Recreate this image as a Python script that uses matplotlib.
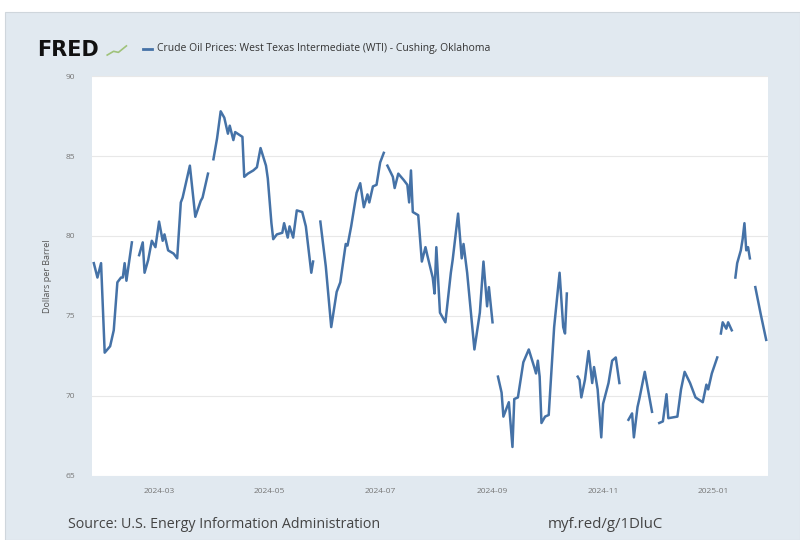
import numpy as np
import pandas as pd
import matplotlib
matplotlib.use("Agg")
import matplotlib.pyplot as plt
import matplotlib.dates as mdates
from matplotlib.patches import Rectangle
from matplotlib.lines import Line2D

plt.rcParams['font.family'] = ['Open Sans', 'DejaVu Sans']

nan = np.nan

# WTI spot price (NaN = break in the line)
dates = [
    "2024-01-25", "2024-01-27", "2024-01-29", "2024-01-31", "2024-02-03", "2024-02-05",
    "2024-02-07", "2024-02-09", "2024-02-10", "2024-02-11", "2024-02-12", "2024-02-15",
    "2024-02-17",
    "2024-02-19", "2024-02-21", "2024-02-22", "2024-02-24", "2024-02-26", "2024-02-28",
    "2024-03-01", "2024-03-03", "2024-03-04", "2024-03-06", "2024-03-09", "2024-03-11",
    "2024-03-13", "2024-03-14", "2024-03-18", "2024-03-21", "2024-03-24", "2024-03-25",
    "2024-03-28",
    "2024-03-29",
    "2024-03-31", "2024-04-02", "2024-04-04", "2024-04-06", "2024-04-08", "2024-04-09",
    "2024-04-11", "2024-04-12", "2024-04-16", "2024-04-17", "2024-04-19", "2024-04-22",
    "2024-04-24", "2024-04-26", "2024-04-29", "2024-04-30", "2024-05-02", "2024-05-03",
    "2024-05-05", "2024-05-08", "2024-05-09", "2024-05-11", "2024-05-12", "2024-05-14",
    "2024-05-16", "2024-05-19", "2024-05-21", "2024-05-24", "2024-05-25",
    "2024-05-27",
    "2024-05-29", "2024-06-01", "2024-06-04", "2024-06-07", "2024-06-09", "2024-06-12",
    "2024-06-13", "2024-06-15", "2024-06-18", "2024-06-20", "2024-06-22", "2024-06-24",
    "2024-06-25", "2024-06-27", "2024-06-29", "2024-07-01", "2024-07-03",
    "2024-07-04",
    "2024-07-05", "2024-07-08", "2024-07-09", "2024-07-11", "2024-07-14", "2024-07-16",
    "2024-07-17", "2024-07-18", "2024-07-19", "2024-07-22", "2024-07-24", "2024-07-26",
    "2024-07-27", "2024-07-30", "2024-07-31", "2024-08-01", "2024-08-03", "2024-08-06",
    "2024-08-09", "2024-08-10", "2024-08-13", "2024-08-15", "2024-08-16", "2024-08-18",
    "2024-08-22", "2024-08-25", "2024-08-27", "2024-08-29", "2024-08-30", "2024-09-01",
    "2024-09-02",
    "2024-09-04", "2024-09-06", "2024-09-07", "2024-09-10", "2024-09-12", "2024-09-13",
    "2024-09-15", "2024-09-18", "2024-09-21", "2024-09-24", "2024-09-25", "2024-09-26",
    "2024-09-27", "2024-09-28", "2024-09-30", "2024-10-02", "2024-10-03", "2024-10-05",
    "2024-10-08", "2024-10-10", "2024-10-11", "2024-10-12",
    "2024-10-15",
    "2024-10-18", "2024-10-19", "2024-10-20", "2024-10-22", "2024-10-24", "2024-10-26",
    "2024-10-27", "2024-10-29", "2024-10-31", "2024-11-01", "2024-11-04", "2024-11-06",
    "2024-11-08", "2024-11-10",
    "2024-11-12",
    "2024-11-15", "2024-11-17", "2024-11-18", "2024-11-20", "2024-11-21", "2024-11-24",
    "2024-11-28",
    "2024-11-30",
    "2024-12-02", "2024-12-04", "2024-12-06", "2024-12-07", "2024-12-12", "2024-12-14",
    "2024-12-16", "2024-12-19", "2024-12-22", "2024-12-26", "2024-12-28", "2024-12-29",
    "2024-12-31", "2025-01-03",
    "2025-01-04",
    "2025-01-05", "2025-01-06", "2025-01-08", "2025-01-09", "2025-01-11",
    "2025-01-12",
    "2025-01-13", "2025-01-14", "2025-01-16", "2025-01-17", "2025-01-18", "2025-01-19",
    "2025-01-20", "2025-01-21",
    "2025-01-22",
    "2025-01-24", "2025-01-27", "2025-01-30",
]

prices = [
    78.3, 77.4, 78.3, 72.7, 73.1, 74.1,
    77.1, 77.4, 77.4, 78.3, 77.2, 79.6,
    nan,
    78.8, 79.6, 77.7, 78.5, 79.7, 79.3,
    80.9, 79.7, 80.1, 79.1, 78.9, 78.6,
    82.1, 82.4, 84.4, 81.2, 82.2, 82.4,
    83.9,
    nan,
    84.8, 86.1, 87.8, 87.4, 86.4, 86.9,
    86.0, 86.5, 86.2, 83.7, 83.9, 84.1,
    84.3, 85.5, 84.4, 83.6, 80.8, 79.8,
    80.1, 80.2, 80.8, 79.9, 80.6, 79.9,
    81.6, 81.5, 80.6, 77.7, 78.4,
    nan,
    80.9, 78.1, 74.3, 76.5, 77.1, 79.5,
    79.4, 80.6, 82.7, 83.3, 81.8, 82.6,
    82.1, 83.1, 83.2, 84.6, 85.2,
    nan,
    84.4, 83.7, 83.0, 83.9, 83.5, 83.2,
    82.1, 84.1, 81.5, 81.3, 78.4, 79.3,
    78.8, 77.4, 76.4, 79.3, 75.2, 74.6,
    77.7, 78.5, 81.4, 78.6, 79.5, 77.7,
    72.9, 75.2, 78.4, 75.6, 76.8, 74.6,
    nan,
    71.2, 70.2, 68.7, 69.6, 66.8, 69.8,
    69.9, 72.1, 72.9, 71.8, 71.4, 72.2,
    71.2, 68.3, 68.7, 68.8, 70.6, 74.3,
    77.7, 74.3, 73.9, 76.4,
    nan,
    71.2, 71.0, 69.9, 71.0, 72.8, 70.8,
    71.8, 70.4, 67.4, 69.5, 70.8, 72.2,
    72.4, 70.8,
    nan,
    68.5, 68.9, 67.4, 69.3, 69.8, 71.5,
    69.0,
    nan,
    68.3, 68.4, 70.1, 68.6, 68.7, 70.4,
    71.5, 70.8, 69.9, 69.6, 70.7, 70.4,
    71.4, 72.4,
    nan,
    73.9, 74.6, 74.2, 74.6, 74.1,
    nan,
    77.4, 78.3, 79.1, 79.8, 80.8, 79.1,
    79.3, 78.6,
    nan,
    76.8, 75.1, 73.5,
]

x_ticks = ["2024-03-01", "2024-05-01", "2024-07-01", "2024-09-01", "2024-11-01", "2025-01-01"]
y_ticks = [65, 70, 75, 80, 85, 90]

series_name = "Crude Oil Prices: West Texas Intermediate (WTI) - Cushing, Oklahoma"
source = "Source: U.S. Energy Information Administration"
short_url = "myf.red/g/1DluC"

bg = "#e1e9f0"
line_color = "#4572a7"

fig = plt.figure(figsize=(8, 5.4), dpi=100, facecolor="white")
fig.patches.append(Rectangle((0.006, 0), 0.994, 0.978, transform=fig.transFigure,
                             facecolor=bg, edgecolor="#cfd6dc", linewidth=0.8, zorder=-10))

ax = fig.add_axes([0.115, 0.119, 0.845, 0.74])
ax.set_facecolor("white")

x = pd.to_datetime(dates)
ax.plot(x, prices, color=line_color, linewidth=1.8)

ax.set_ylim(65, 90)
ax.set_yticks(y_ticks)
ax.set_xlim(pd.Timestamp("2024-01-24"), pd.Timestamp("2025-01-31"))
ax.set_xticks(pd.to_datetime(x_ticks))
ax.xaxis.set_major_formatter(mdates.DateFormatter("%Y-%m"))
ax.grid(axis="y", color="#e8e8e8", linewidth=0.8)
ax.set_axisbelow(True)
for s in ax.spines.values():
    s.set_visible(False)
ax.tick_params(axis="both", length=0, labelsize=6, labelcolor="#777777")
ax.tick_params(axis="x", pad=9)
ax.tick_params(axis="y", pad=12)
ax.set_ylabel("Dollars per Barrel", fontsize=6.5, color="#555555", labelpad=10)

# header
fig.text(0.046, 0.908, "FRED", fontsize=15, fontweight="heavy", color="#111111",
         family="DejaVu Sans", va="center", ha="left")
fig.add_artist(Line2D([0.134, 0.142, 0.148, 0.158], [0.898, 0.905, 0.903, 0.915],
                      color="#9fc27a", linewidth=1.2))
fig.add_artist(Line2D([0.179, 0.19], [0.91, 0.91], color=line_color, linewidth=2))
fig.text(0.196, 0.91, series_name, fontsize=7.5, color="#333333", va="center", ha="left")

# footer
fig.text(0.085, 0.028, source, fontsize=10.3, color="#444444", va="center", ha="left")
fig.text(0.685, 0.028, short_url, fontsize=10.8, color="#444444", va="center", ha="left")

fig.savefig("out.png", dpi=100, facecolor=fig.get_facecolor())
